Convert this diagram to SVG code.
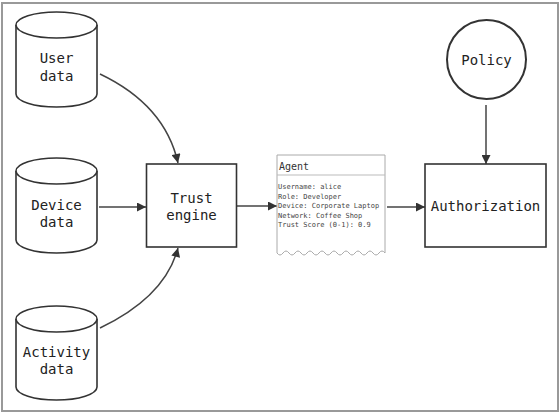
<svg xmlns="http://www.w3.org/2000/svg" width="560" height="413" viewBox="0 0 560 413">
<style>
.node{fill:#fff;stroke:#333;stroke-width:1.6}
.lbl{font-family:"DejaVu Sans Mono","Liberation Mono",monospace;font-size:14px;fill:#222;text-anchor:middle}
.edge{fill:none;stroke:#444;stroke-width:1.5}
.note{fill:#fff;stroke:#aaa;stroke-width:1}
.nt{font-family:"DejaVu Sans Mono","Liberation Mono",monospace;font-size:7px;fill:#444}
</style>
<defs>
<marker id="arr" viewBox="0 0 10 10" refX="10" refY="5" markerWidth="10" markerHeight="9" markerUnits="userSpaceOnUse" orient="auto">
<path d="M0,0 L10,5 L0,10 Z" fill="#333"/>
</marker>
</defs>
<rect x="0" y="0" width="560" height="413" fill="#fff"/>
<rect x="2" y="3" width="556" height="408" fill="none" stroke="#999" stroke-width="2"/>

<g id="edges">
<path class="edge" d="M100,74 Q165,105 178,163" marker-end="url(#arr)"/>
<path class="edge" d="M99,207 L146,207" marker-end="url(#arr)"/>
<path class="edge" d="M100,328 Q165,297 178,248" marker-end="url(#arr)"/>
<path class="edge" d="M237,206 L277,206" marker-end="url(#arr)"/>
<path class="edge" d="M387,207 L425,207" marker-end="url(#arr)"/>
<path class="edge" d="M486,105 L486,164" marker-end="url(#arr)"/>
</g>

<g id="user-data">
<path class="node" d="M16,25 a40.5,13 0 0 1 81,0 V94 a40.5,13 0 0 1 -81,0 Z"/>
<path class="node" fill="none" d="M16,25 a40.5,13 0 0 0 81,0"/>
<text class="lbl" x="56.5" y="63">User</text>
<text class="lbl" x="56.5" y="81">data</text>
</g>

<g id="device-data">
<path class="node" d="M16,171 a40.5,13 0 0 1 81,0 V240 a40.5,13 0 0 1 -81,0 Z"/>
<path class="node" fill="none" d="M16,171 a40.5,13 0 0 0 81,0"/>
<text class="lbl" x="56.5" y="210">Device</text>
<text class="lbl" x="56.5" y="227">data</text>
</g>

<g id="activity-data">
<path class="node" d="M16,319 a40.5,13 0 0 1 81,0 V387 a40.5,13 0 0 1 -81,0 Z"/>
<path class="node" fill="none" d="M16,319 a40.5,13 0 0 0 81,0"/>
<text class="lbl" x="56.5" y="357">Activity</text>
<text class="lbl" x="56.5" y="374">data</text>
</g>

<g id="trust-engine">
<rect class="node" x="146.5" y="164" width="90" height="83"/>
<text class="lbl" x="191.5" y="203">Trust</text>
<text class="lbl" x="191.5" y="220">engine</text>
</g>

<g id="agent">
<path class="note" d="M277,155 H385 V253 q-3,-4 -6,0 t-6,0 t-6,0 t-6,0 t-6,0 t-6,0 t-6,0 t-6,0 t-6,0 t-6,0 t-6,0 t-6,0 t-6,0 t-6,0 t-6,0 t-6,0 t-6,0 t-6,0 Z"/>
<line x1="277" y1="175" x2="385" y2="175" stroke="#bbb" stroke-width="1"/>
<text x="279" y="170" font-family="DejaVu Sans Mono, Liberation Mono, monospace" font-size="10" fill="#333">Agent</text>
<text class="nt" x="278" y="189">Username: alice</text>
<text class="nt" x="278" y="198.5">Role: Developer</text>
<text class="nt" x="278" y="208">Device: Corporate Laptop</text>
<text class="nt" x="278" y="217.5">Network: Coffee Shop</text>
<text class="nt" x="278" y="227">Trust Score (0-1): 0.9</text>
</g>

<g id="authorization">
<rect class="node" x="425" y="164" width="121" height="83"/>
<text class="lbl" x="485.5" y="211">Authorization</text>
</g>

<g id="policy">
<circle cx="486.5" cy="59.5" r="39.5" fill="#fff" stroke="#333" stroke-width="2"/>
<text class="lbl" x="486.5" y="64.5">Policy</text>
</g>
</svg>
